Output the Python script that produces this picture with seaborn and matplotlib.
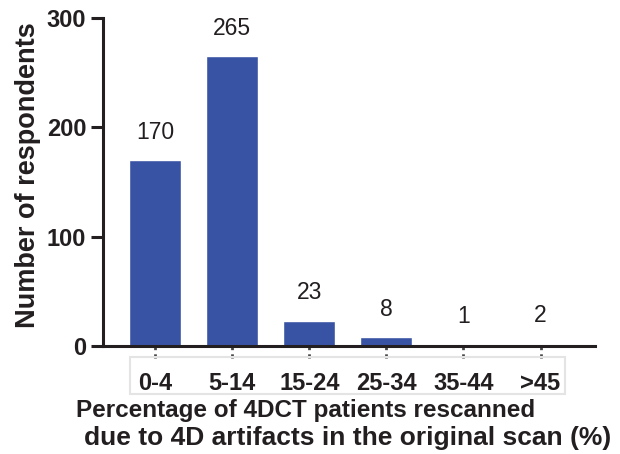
import pandas as pd
import matplotlib.pyplot as plt
import matplotlib.transforms as mtransforms
from matplotlib.patches import Rectangle
import seaborn as sns

# data
categories = ['0-4', '5-14', '15-24', '25-34', '35-44', '>45']
respondents = [170, 265, 23, 8, 1, 2]
y_ticks = [0, 100, 200, 300]

df = pd.DataFrame({'group': categories, 'n': respondents})

sns.set_style("ticks")
plt.rcParams['font.family'] = ['Liberation Sans', 'DejaVu Sans']

dark = '#231f20'
bar_color = '#3953a4'

fig = plt.figure(figsize=(6.2, 4.54), dpi=100)
ax = fig.add_axes([0.166, 0.238, 0.794, 0.722])

sns.barplot(data=df, x='group', y='n', color=bar_color, width=0.675,
            saturation=1, ax=ax)

ax.set_xlim(-0.68, 5.71)
ax.set_ylim(0, 300)
ax.set_yticks(y_ticks)
ax.set_yticklabels([str(t) for t in y_ticks], fontsize=17, fontweight='bold', color=dark)

# value labels above bars
for i, v in enumerate(respondents):
    ax.annotate(str(v), (i, v), xytext=(0, 12), textcoords='offset points',
                ha='center', va='bottom', fontsize=16.5, color=dark)

sns.despine(ax=ax)
for s in ['left', 'bottom']:
    ax.spines[s].set_linewidth(2.2)
    ax.spines[s].set_color(dark)
ax.tick_params(axis='y', length=9, width=2.2, color=dark, pad=3)

# x ticks: short dashed marks below the axis
ax.tick_params(axis='x', length=0, pad=19)
ax.set_xticks(range(len(categories)))
ax.set_xticklabels(categories, fontsize=17, fontweight='bold', color=dark)
trans = mtransforms.blended_transform_factory(ax.transData, ax.transAxes)
ax.vlines(range(len(categories)), -0.038, 0, transform=trans, colors='#444444',
          linestyles=(0, (1.5, 1.5)), linewidth=2, clip_on=False)

# light frame around the tick labels
frame = Rectangle((130 / 620, 1 - 394 / 454), 435 / 620, 37 / 454,
                  transform=fig.transFigure, fill=False, edgecolor='#e4e4e4',
                  linewidth=1.5)
fig.patches.append(frame)

ax.set_xlabel('')
ax.set_ylabel('Number of respondents', fontsize=19.5, fontweight='bold',
              color=dark)
ax.yaxis.set_label_coords(-0.125, 0.52)

fig.text(76 / 620, 1 - 410 / 454, 'Percentage of 4DCT patients rescanned',
         ha='left', va='center', fontsize=17.5, fontweight='bold', color=dark)
fig.text(84 / 620, 1 - 438 / 454, 'due to 4D artifacts in the original scan (%)',
         ha='left', va='center', fontsize=19, fontweight='bold', color=dark)

fig.savefig('out.png', dpi=100)
plt.close(fig)
